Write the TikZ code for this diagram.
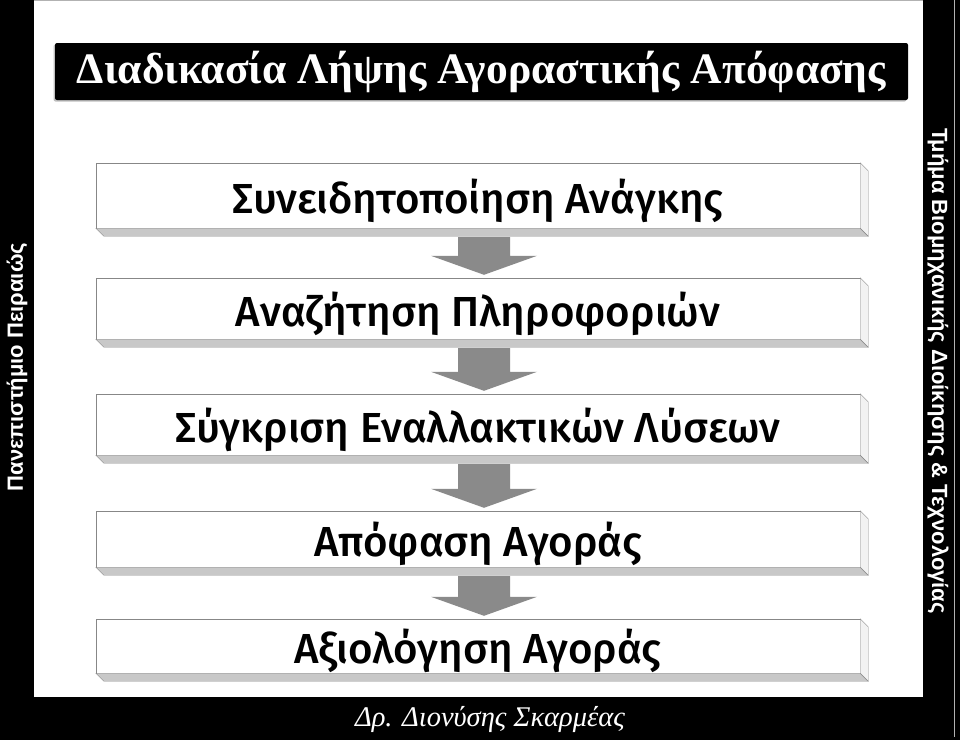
\documentclass[tikz,border=0pt]{standalone}
\usepackage{fontspec}
\setmainfont{Liberation Serif}
\setsansfont{Liberation Sans}
\newfontfamily\stepfont{Fira Sans}[UprightFont=* Medium]
\usetikzlibrary{calc,shadows}

\definecolor{boxline}{RGB}{135,135,135}
\definecolor{boxgrey}{RGB}{200,200,200}
\definecolor{boxside}{RGB}{242,242,242}
\definecolor{arrowgrey}{RGB}{138,138,138}

\tikzset{
  stepbox/.style={draw=boxline, fill=white, minimum width=764pt, inner sep=0pt,
    text height=35pt, text depth=0pt,
    font=\stepfont\fontsize{42}{42}\selectfont},
  sidetext/.style={text=white, font=\sffamily\bfseries\fontsize{22}{22}\selectfont}
}

\begin{document}
\begin{tikzpicture}[x=1pt,y=-1pt]
    \useasboundingbox (0,0) rectangle (960,740);
    % frame
    \fill[black] (0,0) rectangle (960,740);
    \fill[white] (34,1) rectangle (923,697);
    \draw[gray!60] (34,0.5) -- (923,0.5);
    \draw[gray!60, line width=0.8pt] (954.5,0) -- (954.5,737);

    \node[fill=black, rounded corners=2pt, minimum width=853pt, minimum height=57pt,
      drop shadow={shadow xshift=-1.5pt, shadow yshift=-1.5pt, fill=gray},
      text=white, font=\bfseries\fontsize{43.5}{43.5}\selectfont]
      (title) at (481.5,71.5) {Διαδικασία Λήψης Αγοραστικής Απόφασης};

    \node[stepbox, minimum height=65pt] (s1) at (478,195.5) {Συνειδητοποίηση Ανάγκης};
    \node[stepbox, minimum height=61pt] (s2) at (478,308.5) {Αναζήτηση Πληροφοριών};
    \node[stepbox, minimum height=61pt] (s3) at (478,424.5) {Σύγκριση Εναλλακτικών Λύσεων};
    \node[stepbox, minimum height=56pt] (s4) at (478,539) {Απόφαση Αγοράς};
    \node[stepbox, minimum height=54pt] (s5) at (478,646) {Αξιολόγηση Αγοράς};

    \foreach \s in {s1,s2,s3,s4,s5} {
      \filldraw[draw=boxline, fill=boxgrey] (\s.south west) -- (\s.south east)
        -- ++(8,8) -- ($(\s.south west)+(8,8)$) -- cycle;
      \filldraw[draw=boxline, fill=boxside] (\s.north east) -- ++(8,8)
        -- ($(\s.south east)+(8,8)$) -- (\s.south east) -- cycle;
    }

    \foreach \a/\b in {s1/s2,s2/s3,s3/s4,s4/s5} {
      \fill[arrowgrey] ($(\a.south)+(-20,9)$) -- ($(\a.south)+(32,9)$)
        -- ($(\b.north)+(32,-22)$) -- ($(\b.north)+(59,-22)$)
        -- ($(\b.north)+(6,-3)$) -- ($(\b.north)+(-47,-22)$)
        -- ($(\b.north)+(-20,-22)$) -- cycle;
    }

    \node[sidetext, rotate=90] (uni) at (17,367) {Πανεπιστήμιο Πειραιώς};
    \node[sidetext, rotate=-90] (dept) at (938,371)
      {Τμήμα Βιομηχανικής Διοίκησης \& Τεχνολογίας};
    \node[text=white, font=\itshape\fontsize{28.5}{28.5}\selectfont]
      (author) at (490,719) {Δρ. Διονύσης Σκαρμέας};
\end{tikzpicture}
\end{document}
